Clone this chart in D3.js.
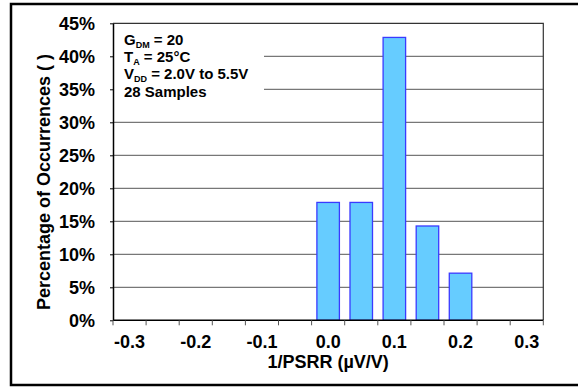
<!DOCTYPE html>
<html><head><meta charset="utf-8">
<script src="https://cdn.jsdelivr.net/npm/d3@7"></script>
<style>body{margin:0;background:#fff}svg{display:block}text{font-family:"Liberation Sans",Arial,sans-serif;font-weight:bold;fill:#000}</style>
</head><body>
<script>
const categories = ["-0.3","-0.25","-0.2","-0.15","-0.1","-0.05","0.0","0.05","0.1","0.15","0.2","0.25","0.3"];
const tickLabels = ["-0.3","-0.2","-0.1","0.0","0.1","0.2","0.3"];
const percentages = [0,0,0,0,0,0,17.86,17.86,42.86,14.29,7.14,0,0];
const yTicks = [0,5,10,15,20,25,30,35,40,45];
const notes = [["G","DM"," = 20"],["T","A"," = 25°C"],["V","DD"," = 2.0V to 5.5V"],["28 Samples","",""]];

const W=578,H=388;
const svg=d3.select("body").append("svg").attr("width",W).attr("height",H);
const m={l:113,r:543.3,t:23.3,b:320.3};

svg.append("rect").attr("x",11).attr("y",4).attr("width",575).attr("height",381)
  .attr("fill","none").attr("stroke","#000").attr("stroke-width",2.5);

const x=d3.scaleBand().domain(categories).range([m.l,m.r]).padding(0);
const y=d3.scaleLinear().domain([0,45]).range([m.b,m.t]);

// gridlines
svg.append("g").selectAll("line").data(yTicks.slice(1,-1)).join("line")
  .attr("x1",m.l).attr("x2",m.r).attr("y1",d=>y(d)).attr("y2",d=>y(d))
  .attr("stroke","#555").attr("stroke-width",1);

// annotation mask
svg.append("rect").attr("x",m.l+1).attr("y",m.t+4).attr("width",150).attr("height",76).attr("fill","#fff");

// bars
const bw=x.bandwidth()*0.68;
svg.append("g").selectAll("rect").data(categories.map((c,i)=>({c,v:percentages[i]})).filter(d=>d.v>0)).join("rect")
  .attr("x",d=>x(d.c)+(x.bandwidth()-bw)/2).attr("y",d=>y(d.v))
  .attr("width",bw).attr("height",d=>y(0)-y(d.v))
  .attr("fill","#66ccff").attr("stroke","#3a3aff").attr("stroke-width",1.3);

// plot border top/right
svg.append("path").attr("d",`M${m.l},${m.t}H${m.r}V${m.b}`).attr("fill","none").attr("stroke","#333").attr("stroke-width",1.2);

// y axis
const ya=svg.append("g").attr("transform",`translate(${m.l},0)`)
  .call(d3.axisLeft(y).tickValues(yTicks).tickSize(3).tickSizeOuter(0).tickFormat(d=>d+"%").tickPadding(15));
ya.select(".domain").attr("stroke","#000").attr("stroke-width",1.5);
ya.selectAll(".tick line").attr("stroke","#000");
ya.selectAll("text").attr("font-size",18).attr("dy","0.36em").attr("fill","#000");

// x axis ticks at band boundaries
const xa=svg.append("g").attr("transform",`translate(0,${m.b})`);
xa.append("line").attr("x1",m.l).attr("x2",m.r).attr("stroke","#000").attr("stroke-width",1.5);
xa.selectAll(".tk").data(categories.concat(["end"])).join("line").attr("class","tk")
  .attr("x1",(d,i)=>m.l+i*x.step()).attr("x2",(d,i)=>m.l+i*x.step())
  .attr("y1",0).attr("y2",5).attr("stroke","#555");
xa.selectAll("text").data(tickLabels).join("text")
  .attr("x",(d,i)=>x(categories[i*2])+x.bandwidth()/2).attr("y",28)
  .attr("text-anchor","middle").attr("font-size",18).text(d=>d);

// titles
svg.append("text").attr("x",(m.l+m.r)/2).attr("y",368).attr("text-anchor","middle").attr("font-size",18).text("1/PSRR (µV/V)");
svg.append("text").attr("transform","translate(50,182) rotate(-90)").attr("text-anchor","middle").attr("font-size",18).text("Percentage of Occurrences ( )");

// notes
const nt=svg.append("g");
notes.forEach((n,i)=>{
  const t=nt.append("text").attr("x",124).attr("y",45+i*17.2).attr("font-size",15);
  t.append("tspan").text(n[0]);
  if(n[1]){t.append("tspan").attr("font-size",9).attr("dy",2.5).text(n[1]);
    t.append("tspan").attr("dy",-2.5).text(n[2]);}
});
</script>
</body></html>
